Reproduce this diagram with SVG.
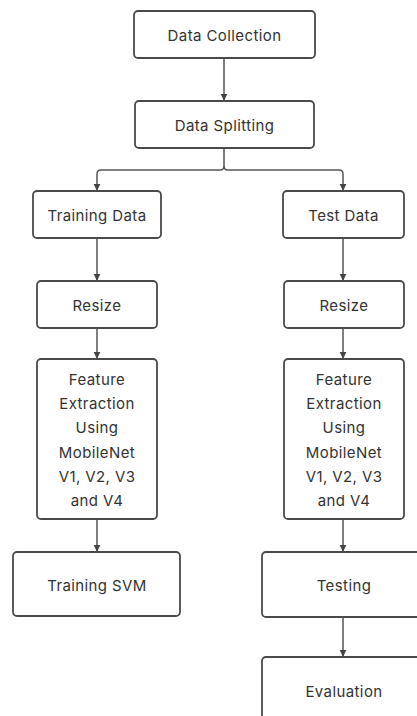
<svg xmlns="http://www.w3.org/2000/svg" width="417" height="716" viewBox="0 0 417 716">
  <defs>
    <style>
      .box { fill: #ffffff; stroke: #4a4a4a; stroke-width: 1.8; }
      .lbl { font-family: Inter, "Noto Sans", "Liberation Sans", sans-serif; font-size: 15px; letter-spacing: 0.4px; fill: #333333; text-anchor: middle; dominant-baseline: central; }
      .wire { fill: none; stroke: #555555; stroke-width: 1.5; }
    </style>
    <marker id="arrow" viewBox="0 0 10 10" refX="9" refY="5" markerWidth="7" markerHeight="8" markerUnits="userSpaceOnUse" orient="auto">
      <path d="M0,0 L10,5 L0,10 z" fill="#444444"/>
    </marker>
  </defs>
  <rect width="417" height="716" fill="#ffffff"/>

  <g id="connectors">
    <line class="wire" x1="224" y1="58" x2="224" y2="100" marker-end="url(#arrow)"/>
    <path class="wire" d="M224,148 V166 Q224,170 220,170 H101 Q97,170 97,174 V190" marker-end="url(#arrow)"/>
    <path class="wire" d="M224,166 Q224,170 228,170 H339 Q343,170 343,174 V190" marker-end="url(#arrow)"/>
    <line class="wire" x1="97" y1="238" x2="97" y2="280" marker-end="url(#arrow)"/>
    <line class="wire" x1="343" y1="238" x2="343" y2="280" marker-end="url(#arrow)"/>
    <line class="wire" x1="97" y1="328" x2="97" y2="358" marker-end="url(#arrow)"/>
    <line class="wire" x1="343" y1="328" x2="343" y2="358" marker-end="url(#arrow)"/>
    <line class="wire" x1="97" y1="519" x2="97" y2="551" marker-end="url(#arrow)"/>
    <line class="wire" x1="343" y1="519" x2="343" y2="551" marker-end="url(#arrow)"/>
    <line class="wire" x1="343" y1="617" x2="343" y2="656" marker-end="url(#arrow)"/>
  </g>

  <g id="data-collection">
    <rect class="box" x="134" y="11" width="181" height="47" rx="4"/>
    <text class="lbl" x="224.5" y="35">Data Collection</text>
  </g>
  <g id="data-splitting">
    <rect class="box" x="135" y="101" width="179" height="47" rx="4"/>
    <text class="lbl" x="224.5" y="125">Data Splitting</text>
  </g>
  <g id="training-data">
    <rect class="box" x="33" y="191" width="128" height="47" rx="4"/>
    <text class="lbl" x="97" y="215">Training Data</text>
  </g>
  <g id="test-data">
    <rect class="box" x="283" y="191" width="121" height="47" rx="4"/>
    <text class="lbl" x="343.5" y="215">Test Data</text>
  </g>
  <g id="resize-train">
    <rect class="box" x="37" y="281" width="120" height="47" rx="4"/>
    <text class="lbl" x="97" y="305">Resize</text>
  </g>
  <g id="resize-test">
    <rect class="box" x="284" y="281" width="120" height="47" rx="4"/>
    <text class="lbl" x="344" y="305">Resize</text>
  </g>
  <g id="features-train">
    <rect class="box" x="37" y="359" width="120" height="160" rx="4"/>
    <text class="lbl" x="97" y="379">Feature</text>
    <text class="lbl" x="97" y="403">Extraction</text>
    <text class="lbl" x="97" y="427">Using</text>
    <text class="lbl" x="97" y="452">MobileNet</text>
    <text class="lbl" x="97" y="476">V1, V2, V3</text>
    <text class="lbl" x="97" y="500">and V4</text>
  </g>
  <g id="features-test">
    <rect class="box" x="284" y="359" width="120" height="160" rx="4"/>
    <text class="lbl" x="344" y="379">Feature</text>
    <text class="lbl" x="344" y="403">Extraction</text>
    <text class="lbl" x="344" y="427">Using</text>
    <text class="lbl" x="344" y="452">MobileNet</text>
    <text class="lbl" x="344" y="476">V1, V2, V3</text>
    <text class="lbl" x="344" y="500">and V4</text>
  </g>
  <g id="training-svm">
    <rect class="box" x="13" y="552" width="167" height="64" rx="4"/>
    <text class="lbl" x="97" y="585">Training SVM</text>
  </g>
  <g id="testing">
    <rect class="box" x="262" y="552" width="170" height="65" rx="4"/>
    <text class="lbl" x="344" y="585">Testing</text>
  </g>
  <g id="evaluation">
    <rect class="box" x="262" y="657" width="170" height="80" rx="4"/>
    <text class="lbl" x="344" y="691">Evaluation</text>
  </g>
</svg>
